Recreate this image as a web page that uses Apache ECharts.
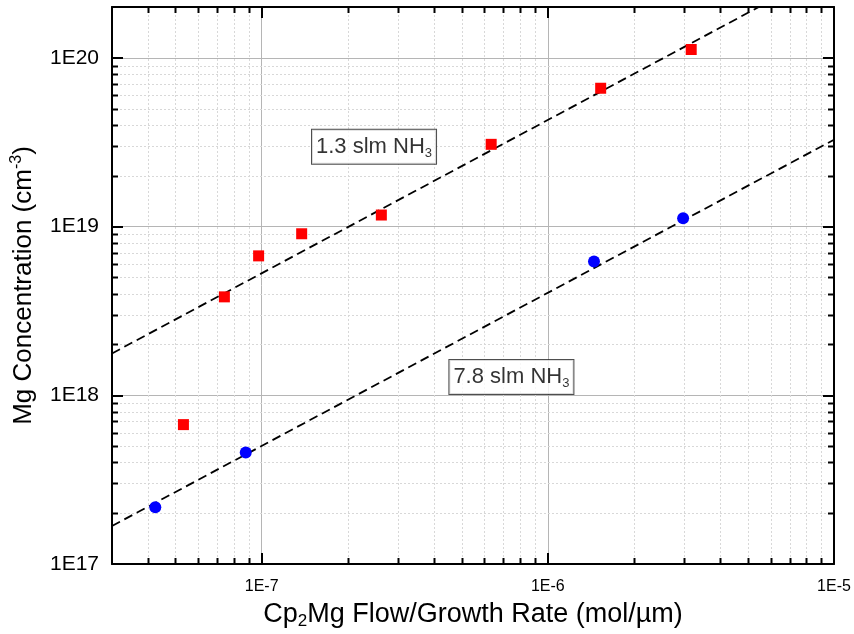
<!DOCTYPE html>
<html>
<head>
<meta charset="utf-8">
<script src="https://cdn.jsdelivr.net/npm/echarts@6/dist/echarts.min.js"></script>
<style>html,body{margin:0;padding:0;background:#fff}#c{width:854px;height:634px}</style>
</head>
<body>
<div id="c"></div>
<script>
// ---- data ----
const xMin = 3e-8, xMax = 1e-5;
const yMin = 1e17, yMax = 2e20;
const xMinorTicks = [4e-8,5e-8,6e-8,7e-8,8e-8,9e-8,2e-7,3e-7,4e-7,5e-7,6e-7,7e-7,8e-7,9e-7,2e-6,3e-6,4e-6,5e-6,6e-6,7e-6,8e-6,9e-6];
const yMinorTicks = [2e17,3e17,4e17,5e17,6e17,7e17,8e17,9e17,2e18,3e18,4e18,5e18,6e18,7e18,8e18,9e18,2e19,3e19,4e19,5e19,6e19,7e19,8e19,9e19];
const xTickLabels = {'-7':'1E-7','-6':'1E-6','-5':'1E-5'};
const yTickLabels = {'17':'1E17','18':'1E18','19':'1E19','20':'1E20'};

// 1.3 slm NH3 (red squares)
const lowX = [5.33e-8, 7.41e-8, 9.76e-8, 1.38e-7, 2.62e-7, 6.34e-7, 1.53e-6, 3.17e-6];
const lowY = [6.7e17, 3.83e18, 6.7e18, 9.06e18, 1.17e19, 3.07e19, 6.6e19, 1.12e20];
// 7.8 slm NH3 (blue circles)
const highX = [4.25e-8, 8.8e-8, 1.45e-6, 2.97e-6];
const highY = [2.17e17, 4.58e17, 6.2e18, 1.12e19];
// dashed fit lines (end points)
const fitLowX = [3e-8, 5.46e-6];
const fitLowY = [1.77e18, 2e20];
const fitHighX = [3e-8, 1e-5];
const fitHighY = [1.68e17, 3.27e19];
// annotations
const annoText = ['1.3 slm NH{sub|3}', '7.8 slm NH{sub|3}'];
const annoX = [2.47e-7, 7.46e-7];
const annoY = [2.97e19, 1.285e18];

const zip = (a, b) => a.map((v, i) => [v, b[i]]);
const FONT = '"Liberation Sans", Arial, sans-serif';

function fmtPow(map) {
  return function (v) {
    const e = Math.log10(v);
    const r = Math.round(e);
    if (Math.abs(e - r) < 1e-6 && map[String(r)] !== undefined) return map[String(r)];
    return '';
  };
}

function minorRender(isX) {
  return function (params, api) {
    const cs = params.coordSys;
    const v = api.value(isX ? 0 : 1);
    const p = api.coord(isX ? [v, yMin] : [xMin, v]);
    const grid = {type: 'line', style: {stroke: '#d8d8d8', lineWidth: 1, lineDash: [2, 2]}};
    const tickStyle = {stroke: '#000', lineWidth: 2};
    let children;
    if (isX) {
      const x = Math.round(p[0]) + 0.5;
      children = [
        Object.assign({shape: {x1: x, y1: cs.y, x2: x, y2: cs.y + cs.height}}, grid),
        {type: 'line', shape: {x1: x, y1: cs.y + cs.height, x2: x, y2: cs.y + cs.height - 6}, style: tickStyle},
        {type: 'line', shape: {x1: x, y1: cs.y, x2: x, y2: cs.y + 6}, style: tickStyle}
      ];
    } else {
      const y = Math.round(p[1]) + 0.5;
      children = [
        Object.assign({shape: {x1: cs.x, y1: y, x2: cs.x + cs.width, y2: y}}, grid),
        {type: 'line', shape: {x1: cs.x, y1: y, x2: cs.x + 6, y2: y}, style: tickStyle},
        {type: 'line', shape: {x1: cs.x + cs.width, y1: y, x2: cs.x + cs.width - 6, y2: y}, style: tickStyle}
      ];
    }
    return {type: 'group', children: children};
  };
}

const axisCommon = {
  type: 'log', logBase: 10,
  axisLine: {show: true, onZero: false, lineStyle: {color: '#000', width: 2}},
  axisTick: {show: true, inside: true, length: 11, lineStyle: {color: '#000', width: 2}},
  minorTick: {show: false},
  splitLine: {show: false}
};

const chart = echarts.init(document.getElementById('c'), null, {renderer: 'canvas'});
chart.setOption({
  animation: false,
  backgroundColor: '#fff',
  textStyle: {fontFamily: FONT},
  grid: {left: 112, right: 20, top: 7, bottom: 70, containLabel: false, outerBoundsMode: 'none'},
  xAxis: [
    Object.assign({}, axisCommon, {
      min: xMin, max: xMax, position: 'bottom',
      axisLabel: {formatter: fmtPow(xTickLabels), fontSize: 16, color: '#000', margin: 15, fontFamily: FONT},
      splitLine: {show: true, lineStyle: {color: '#b5b5b5', width: 1}},
      name: 'Cp{sub|2}Mg Flow/Growth Rate (mol/µm)',
      nameLocation: 'middle', nameGap: 35,
      nameTextStyle: {fontSize: 27, color: '#000', fontFamily: FONT, lineHeight: 30, verticalAlign: 'top',
        rich: {sub: {fontSize: 17, lineHeight: 30, verticalAlign: 'bottom', fontFamily: FONT, color: '#000'}}}
    }),
    Object.assign({}, axisCommon, {min: xMin, max: xMax, position: 'top', axisLabel: {show: false}})
  ],
  yAxis: [
    Object.assign({}, axisCommon, {
      min: yMin, max: yMax, position: 'left',
      axisLabel: {formatter: fmtPow(yTickLabels), fontSize: 21, color: '#000', margin: 13, fontFamily: FONT},
      splitLine: {show: true, lineStyle: {color: '#b5b5b5', width: 1}},
      name: 'Mg Concentration (cm{sup|-3})',
      nameLocation: 'middle', nameGap: 73, nameRotate: 90,
      nameTextStyle: {fontSize: 26, color: '#000', fontFamily: FONT, lineHeight: 30,
        rich: {sup: {fontSize: 16, lineHeight: 30, verticalAlign: 'top', fontFamily: FONT, color: '#000'}}}
    }),
    Object.assign({}, axisCommon, {min: yMin, max: yMax, position: 'right', axisLabel: {show: false}})
  ],
  series: [
    {type: 'custom', name: 'xminor', xAxisIndex: 0, yAxisIndex: 0, z: 1, silent: true, clip: false,
      renderItem: minorRender(true), data: xMinorTicks.map(v => [v, yMin])},
    {type: 'custom', name: 'yminor', xAxisIndex: 0, yAxisIndex: 0, z: 1, silent: true, clip: false,
      renderItem: minorRender(false), data: yMinorTicks.map(v => [xMin, v])},
    {type: 'line', name: 'fit 1.3', data: zip(fitLowX, fitLowY), showSymbol: false, symbol: 'none', z: 2,
      lineStyle: {color: '#000', width: 1.8, type: [9, 5]}},
    {type: 'line', name: 'fit 7.8', data: zip(fitHighX, fitHighY), showSymbol: false, symbol: 'none', z: 2,
      lineStyle: {color: '#000', width: 1.8, type: [9, 5]}},
    {type: 'scatter', name: '1.3 slm NH3', data: zip(lowX, lowY), symbol: 'rect', symbolSize: 11, z: 3,
      itemStyle: {color: '#ff0000', opacity: 1}},
    {type: 'scatter', name: '7.8 slm NH3', data: zip(highX, highY), symbol: 'circle', symbolSize: 12, z: 3,
      itemStyle: {color: '#0000ff', opacity: 1}},
    {type: 'scatter', name: 'annotations', z: 5, silent: true, symbolSize: 2,
      itemStyle: {color: 'rgba(0,0,0,0)'},
      labelLayout: {hideOverlap: false},
      data: annoX.map((x, i) => [x, annoY[i]]),
      label: {show: true, position: 'inside', color: '#000', fontSize: 22, fontFamily: FONT, lineHeight: 25,
        backgroundColor: '#fff', borderColor: '#222', borderWidth: 1, padding: [5, 4, 4, 4],
        formatter: p => annoText[p.dataIndex],
        rich: {sub: {fontSize: 13, lineHeight: 14, verticalAlign: 'bottom', fontFamily: FONT, color: '#000'}}}}
  ]
});
</script>
</body>
</html>
